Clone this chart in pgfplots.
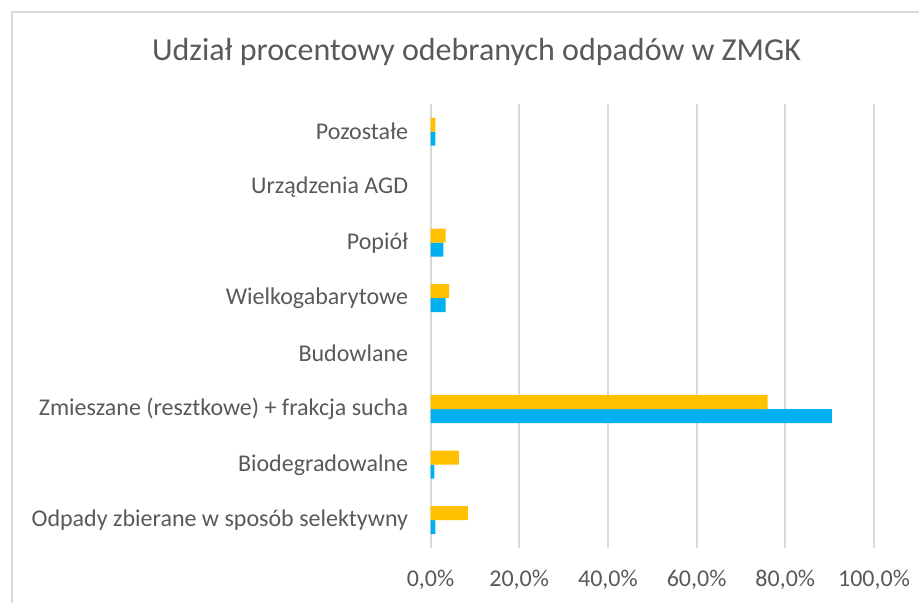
\documentclass[border=0pt]{standalone}
\usepackage{pgfplots}
\pgfplotsset{compat=1.18}
\usepackage{fontspec}
\setmainfont{Carlito}
\definecolor{txt}{HTML}{595959}
\definecolor{grd}{HTML}{D9D9D9}
\definecolor{cblue}{HTML}{00B0F0}
\definecolor{corange}{HTML}{FFC000}
\begin{document}
\begin{tikzpicture}
\useasboundingbox (0,0) rectangle (459.5pt,301.5pt);
\draw[grd, line width=1pt] (6pt,0) -- (6pt,295.5pt) -- (459.5pt,295.5pt);
\node[txt, font=\fontsize{16}{19}\selectfont] at (238.25pt,275.5pt) {Udział procentowy odebranych odpadów w ZMGK};
\begin{axis}[
  at={(215.25pt,27.5pt)}, anchor=south west,
  scale only axis, width=221.75pt, height=222pt,
  xbar, bar width=7pt,
  xmin=0, xmax=100, ymin=-0.5, ymax=7.5,
  xtick={0,20,40,60,80,100},
  xticklabels={{0,0\%},{20,0\%},{40,0\%},{60,0\%},{80,0\%},{100,0\%}},
  ytick={0,1,2,3,4,5,6,7},
  yticklabels={Odpady zbierane w sposób selektywny,Biodegradowalne,Zmieszane (resztkowe) + frakcja sucha,Budowlane,Wielkogabarytowe,Popiół,Urządzenia AGD,Pozostałe},
  major tick length=0pt,
  axis line style={draw=none},
  xmajorgrids, grid style={grd, line width=1pt},
  tick label style={txt, font=\fontsize{12}{14}\selectfont},
  yticklabel style={inner sep=0pt, xshift=-11pt},
  xticklabel style={inner sep=0pt, yshift=-11pt},
  clip=false,
  unbounded coords=discard,
  x filter/.expression={x==0 ? nan : x},
]
\addplot[draw=none, fill=cblue, bar shift=-3.5pt] coordinates {(1.1,0) (0.9,1) (90.5,2) (0,3) (3.4,4) (2.9,5) (0,6) (1.1,7)};
\addplot[draw=none, fill=corange, bar shift=3.5pt] coordinates {(8.4,0) (6.4,1) (76.0,2) (0,3) (4.2,4) (3.4,5) (0,6) (1.1,7)};
\end{axis}
\end{tikzpicture}
\end{document}
